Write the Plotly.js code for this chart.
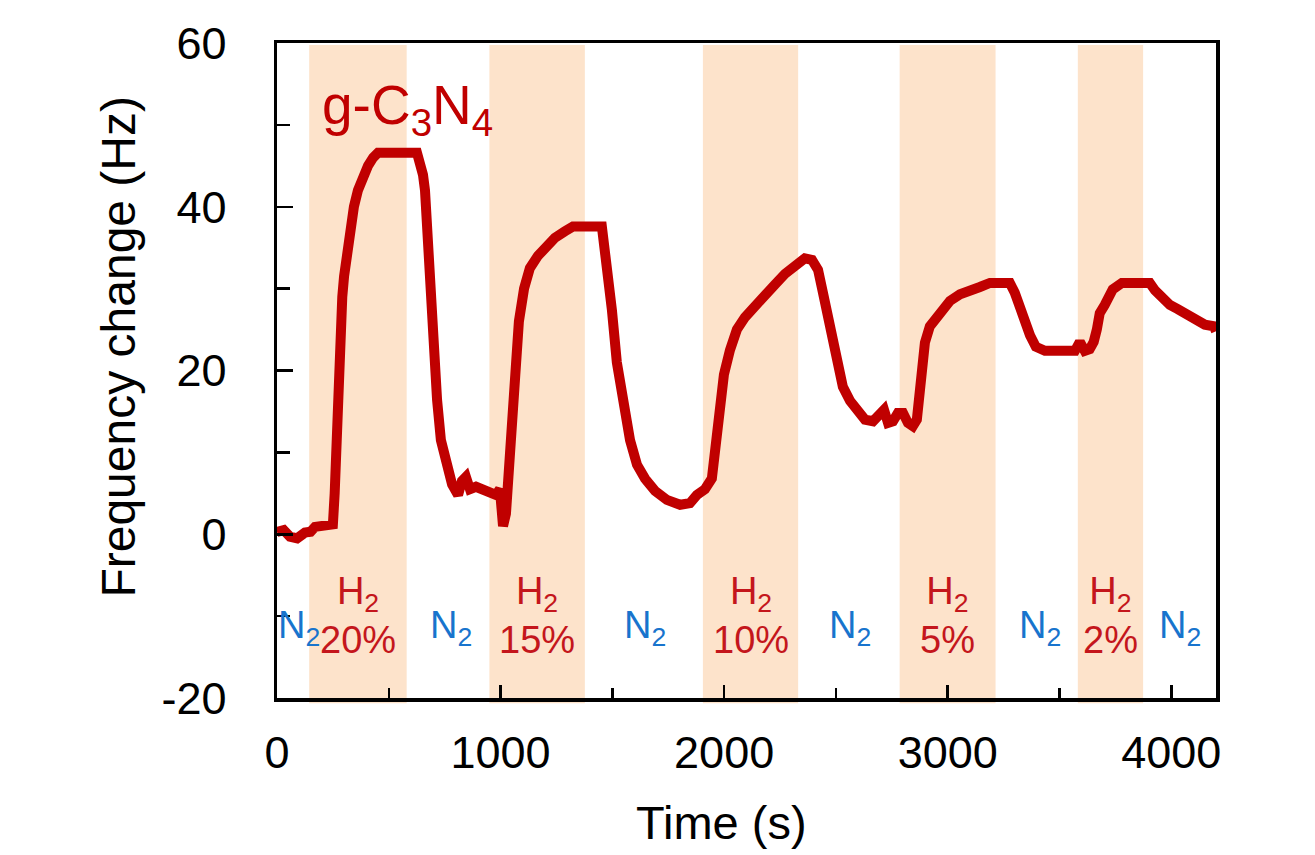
<!DOCTYPE html>
<html>
<head>
<meta charset="utf-8">
<script src="https://cdn.plot.ly/plotly-3.0.1.min.js"></script>
<style>
  html, body { margin: 0; padding: 0; background: #ffffff; }
  #chart { width: 1315px; height: 855px; }
</style>
</head>
<body>
<div id="chart"></div>
<script>
// Sensor response of g-C3N4 to H2 pulses in N2
const timeS = [
  0, 30, 58, 90, 125, 150, 170, 210, 237, 250,
  258, 264, 272, 282, 292, 300, 313, 326, 344, 362, 385, 407, 430, 452,
  626, 640, 653, 662, 668, 675, 682, 689, 702, 716, 733, 756, 783, 810,
  827, 845, 863, 890, 917, 953, 979, 997, 1011, 1024,
  1038, 1051, 1064, 1082, 1105, 1131, 1167, 1203, 1243, 1288, 1324, 1453,
  1467, 1480, 1498, 1520, 1547, 1579, 1610, 1646, 1691, 1744, 1803, 1847, 1878, 1914, 1945,
  1963, 1981, 1999, 2026, 2057, 2093, 2138, 2182, 2227, 2272, 2317, 2361, 2393, 2420,
  2442, 2464, 2487, 2509, 2531, 2563, 2594, 2630, 2666, 2697, 2715, 2733, 2755, 2777, 2800, 2822, 2844, 2862,
  2876, 2898, 2920, 2952, 2979, 3010, 3055, 3099, 3144, 3189, 3278,
  3300, 3323, 3345, 3368, 3394, 3435, 3502, 3569, 3591, 3613, 3635,
  3653, 3667, 3680, 3702, 3738, 3779, 3904,
  3927, 3958, 3994, 4029, 4074, 4105, 4150, 4190, 4200
];
const freqHz = [
  0.3, 0.5, -0.3, -0.5, 0.2, 0.3, 0.9, 1.0, 1.3, 1.2,
  5, 10.3, 17, 24, 29, 31.5, 34.5, 37.2, 40, 42, 44, 45, 46, 46.6,
  46.6, 45.5, 43.9, 42, 39, 35, 31, 28.6, 22.5, 16.4, 11.5, 8.5, 6.1, 4.8,
  6.5, 7.0, 5.5, 5.8, 5.5, 5.3, 4.8, 5.5, 1.0, 2.5,
  8, 15, 21, 26, 30, 32.5, 34, 35, 36.2, 37, 37.6, 37.6,
  35, 31, 27.4, 21, 16.4, 11.5, 8.5, 6.8, 5.3, 4.2, 3.6, 3.8, 4.8, 5.5, 6.8,
  11, 16, 19.5, 22.5, 25, 26.5, 28, 29.3, 30.5, 31.8, 32.7, 33.7, 33.5, 32.3,
  29.5, 26.5, 22.5, 20, 18, 16.3, 15.2, 14, 13.8, 14.5, 15.2, 13.6, 13.8, 14.8, 14.8, 13.6, 13.2, 14,
  18.5, 23.4, 25.4, 26.5, 27.4, 28.5, 29.3, 29.6, 30.2, 30.7, 30.7,
  29.5, 27.5, 25.8, 24.3, 22.9, 22.4, 22.4, 22.4, 23.5, 22.4, 22.6,
  23.5, 25, 27, 28, 29.9, 30.7, 30.7,
  29.8, 28.8, 28, 27.5, 26.8, 26, 25.6, 25.4, 24.8
];

// H2 exposure windows (s) and their concentrations
const h2Start = [144, 950, 1905, 2785, 3582];
const h2End   = [580, 1377, 2331, 3214, 3874];
const h2Labels = ['20%', '15%', '10%', '5%', '2%'];

// N2 purge label positions (s)
const n2LabelX = [98, 778, 1646, 2563, 3412, 4038];

const xTickVals = [0, 1000, 2000, 3000, 4000];
const xTickText = ['0', '1000', '2000', '3000', '4000'];
const yTickVals = [-20, 0, 20, 40, 60];
const yTickText = ['-20', '0', '20', '40', '60'];

const FONT = 'Arial, "Liberation Sans", sans-serif';
const RED = '#C00000';
const LABEL_RED = '#C4161C';
const BLUE = '#1874CD';
const BAND = '#FDE3CB';

const shapes = h2Start.map((s, i) => ({
  type: 'rect', xref: 'x', yref: 'paper',
  x0: s, x1: h2End[i], y0: -0.008, y1: 0.997,
  fillcolor: BAND, line: { width: 0 }, layer: 'below'
}));

const annotations = [];
h2Start.forEach((s, i) => {
  annotations.push({
    xref: 'x', yref: 'y', x: (s + h2End[i]) / 2, y: -9.9,
    xanchor: 'center', yanchor: 'middle', showarrow: false,
    text: 'H<sub>2</sub><br>' + h2Labels[i],
    font: { family: FONT, size: 38, color: LABEL_RED }
  });
});
n2LabelX.forEach(x => {
  annotations.push({
    xref: 'x', yref: 'y', x: x, y: -11.5,
    xanchor: 'center', yanchor: 'middle', showarrow: false,
    text: 'N<sub>2</sub>',
    font: { family: FONT, size: 38, color: BLUE }
  });
});
annotations.push({
  xref: 'x', yref: 'y', x: 192, y: 51.9,
  xanchor: 'left', yanchor: 'middle', showarrow: false,
  text: 'g-C<sub>3</sub>N<sub>4</sub>',
  font: { family: FONT, size: 55, color: RED }
});
// Axis titles
annotations.push({
  xref: 'paper', yref: 'paper', x: 0.473, y: -0.19,
  xanchor: 'center', yanchor: 'middle', showarrow: false,
  text: 'Time (s)',
  font: { family: FONT, size: 47, color: '#000000' }
});
annotations.push({
  xref: 'paper', yref: 'paper', x: -0.169, y: 0.537,
  xanchor: 'center', yanchor: 'middle', showarrow: false, textangle: -90,
  text: 'Frequency change (Hz)',
  font: { family: FONT, size: 48, color: '#000000' }
});

const trace = {
  x: timeS, y: freqHz, type: 'scatter', mode: 'lines',
  line: { color: RED, width: 10 },
  hoverinfo: 'skip'
};

const axisCommon = {
  showgrid: false, zeroline: false,
  showline: true, linecolor: '#000000', linewidth: 3.5, mirror: true,
  ticks: 'inside', tickcolor: '#000000', tickwidth: 2.5,
  tickfont: { family: FONT, size: 45, color: '#000000' },
  fixedrange: true
};

const layout = {
  width: 1315, height: 855,
  margin: { l: 277, r: 99, t: 43, b: 157 },
  paper_bgcolor: '#ffffff', plot_bgcolor: '#ffffff',
  showlegend: false,
  xaxis: Object.assign({}, axisCommon, {
    range: [0, 4200], tickmode: 'array', tickvals: xTickVals, ticktext: xTickText, ticklen: 13,
    ticklabelstandoff: 12,
    minor: { dtick: 500, ticklen: 10, tickwidth: 2.5, tickcolor: '#000000', ticks: 'inside' }
  }),
  yaxis: Object.assign({}, axisCommon, {
    range: [-20, 60], tickmode: 'array', tickvals: yTickVals, ticktext: yTickText, ticklen: 16,
    ticklabelstandoff: 38,
    minor: { dtick: 10, ticklen: 13, tickwidth: 2.5, tickcolor: '#000000', ticks: 'inside' }
  }),
  shapes: shapes,
  annotations: annotations
};

Plotly.newPlot('chart', [trace], layout, { displayModeBar: false, staticPlot: true });
</script>
</body>
</html>
